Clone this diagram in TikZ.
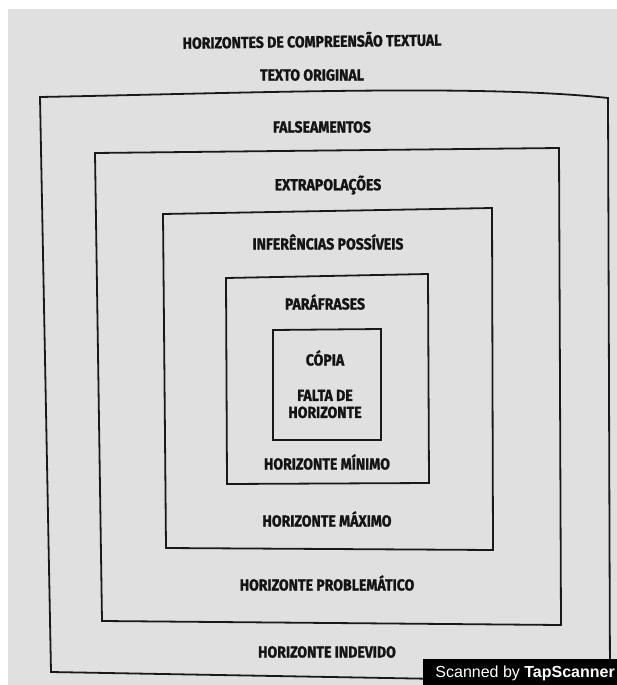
\documentclass[tikz,border=0pt]{standalone}
\usepackage{fontspec}
\setmainfont{Fira Sans}[FakeStretch=0.88, BoldFeatures={FakeBold=1.2}]
\newfontfamily\wmfont{Liberation Sans}
\begin{document}
\begin{tikzpicture}[x=1pt,y=-1pt,
  lbl/.style={font=\bfseries\fontsize{16}{17}\selectfont, text=black!92, inner sep=0pt, align=center},
  boxline/.style={draw=black!90, line width=1.8pt, line join=miter}]
\useasboundingbox (0,0) rectangle (617,685);
\fill[white] (0,0) rectangle (617,685);
\fill[black!12] (8,9) rectangle (617,685);
% boxes
\draw[boxline] (40,97) .. controls (250,93) and (480,84) .. (608,98) -- (610,682) -- (51,672) -- cycle;
\draw[boxline] (95,153) -- (559,148) -- (561,625) -- (102,621) -- cycle;
\draw[boxline] (163,214) -- (492,208) -- (493,550) -- (166,548) -- cycle;
\draw[boxline] (226,278) -- (428,274) -- (429,483) -- (227,484) -- cycle;
\draw[boxline] (273,330) -- (381,329) -- (381,440) -- (273,440) -- cycle;
% labels
\node[lbl, rotate=0.7] (title) at (312,40) {HORIZONTES DE COMPREENSÃO TEXTUAL};
\node[lbl] (orig) at (312,75) {TEXTO ORIGINAL};
\node[lbl] (fals) at (322,127) {FALSEAMENTOS};
\node[lbl] (extr) at (328,185) {EXTRAPOLAÇÕES};
\node[lbl] (infe) at (328,242) {INFERÊNCIAS POSSÍVEIS};
\node[lbl] (para) at (325,302) {PARÁFRASES};
\node[lbl] (copia) at (325,358) {CÓPIA};
\node[lbl] (falta) at (325,404) {FALTA DE\\[0pt]HORIZONTE};
\node[lbl] (hmin) at (327,462) {HORIZONTE MÍNIMO};
\node[lbl] (hmax) at (327,519) {HORIZONTE MÁXIMO};
\node[lbl] (hprob) at (327,583) {HORIZONTE PROBLEMÁTICO};
\node[lbl] (hind) at (327,652) {HORIZONTE INDEVIDO};
% watermark
\fill[black] (423,659) rectangle (617,685);
\node[text=white, font=\wmfont\fontsize{16}{17}\selectfont, inner sep=0pt, anchor=east] (wm) at (615,673) {Scanned by \textbf{TapScanner}};
\end{tikzpicture}
\end{document}
